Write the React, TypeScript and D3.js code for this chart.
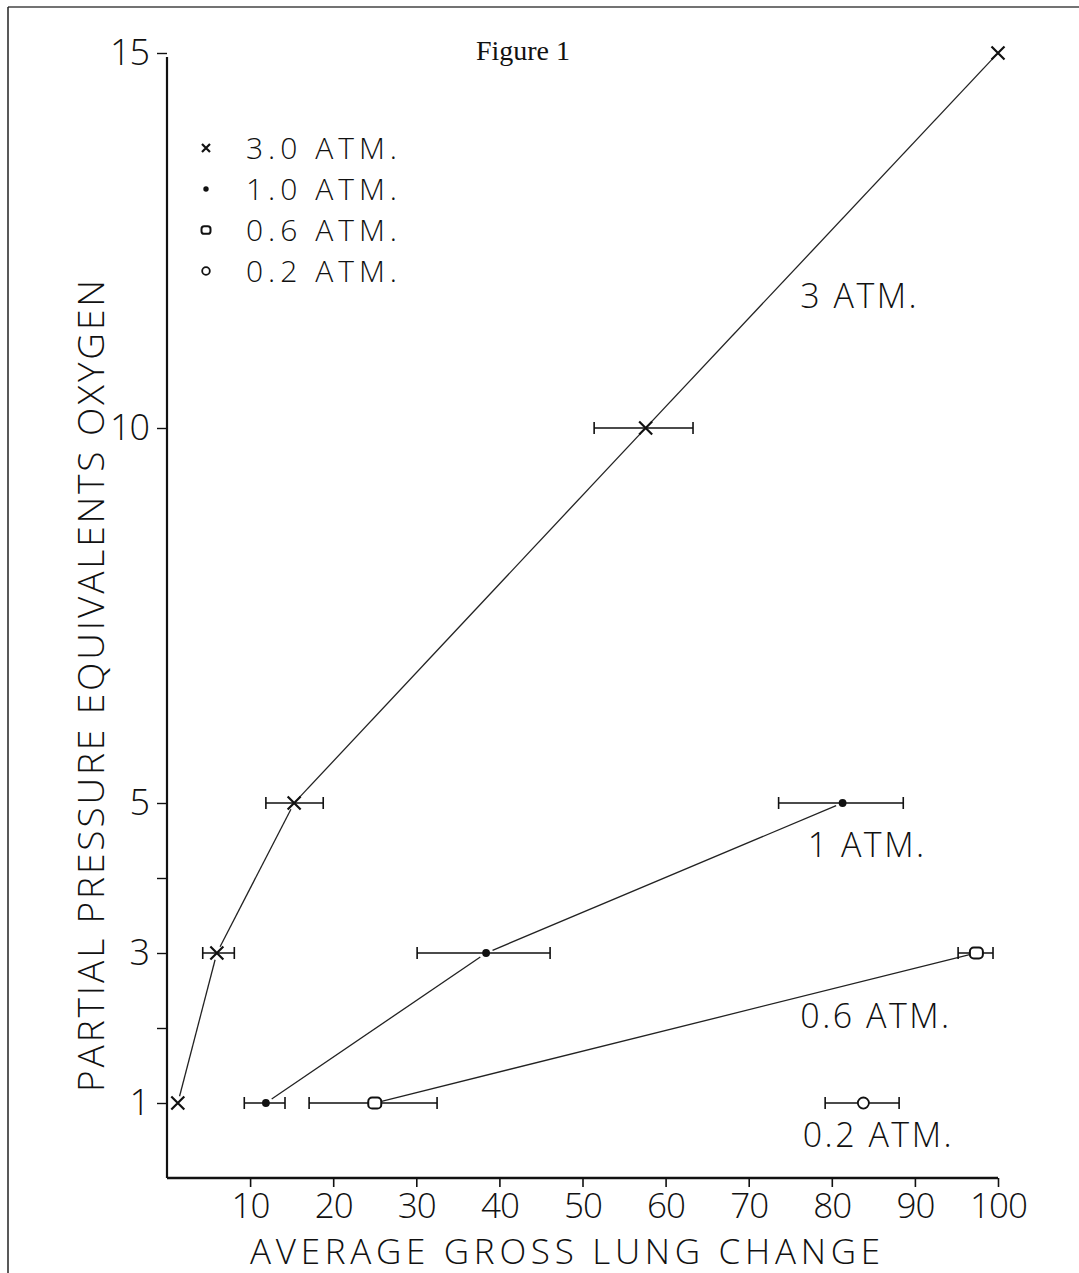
import * as d3 from "d3";
import { useEffect, useRef } from "react";

// partial pressure equivalents (y) and average gross lung change (x) per series
const atm3Pressure = [1, 3, 5, 10, 15];
const atm3Change = [1.3, 6.0, 15.3, 57.6, 100];
const atm3Low = [null, 4.3, 11.9, 51.4, null];
const atm3High = [null, 8.1, 18.8, 63.3, null];

const atm1Pressure = [1, 3, 5];
const atm1Change = [11.9, 38.4, 81.3];
const atm1Low = [9.3, 30.1, 73.6];
const atm1High = [14.2, 46.1, 88.6];

const atm06Pressure = [1, 3];
const atm06Change = [25.0, 97.4];
const atm06Low = [17.1, 95.2];
const atm06High = [32.5, 99.4];

const atm02Pressure = [1];
const atm02Change = [83.8];
const atm02Low = [79.2];
const atm02High = [88.1];

const xTicks = [10, 20, 30, 40, 50, 60, 70, 80, 90, 100];
const yTicks = [1, 2, 3, 4, 5, 10, 15];
const yTickLabels = [1, 3, 5, 10, 15];
const legendLabels = ["3.0 ATM.", "1.0 ATM.", "0.6 ATM.", "0.2 ATM."];
const seriesLabels = ["3 ATM.", "1 ATM.", "0.6 ATM.", "0.2 ATM."];

const W = 1079;
const H = 1273;
const FONT = "'Open Sans', 'DejaVu Sans', sans-serif";
const INK = "#111";

const App = () => {
  const ref = useRef(null);

  useEffect(() => {
    const svg = d3.select(ref.current);
    svg.selectAll("*").remove();

    const x = d3.scaleLinear().domain([0, 100]).range([167, 998]);
    const y = d3.scaleLinear().domain([0, 15]).range([1178, 53]);

    // frame of the scanned page
    svg.append("line").attr("x1", 8).attr("x2", W).attr("y1", 7).attr("y2", 7)
      .attr("stroke", "#444").attr("stroke-width", 1.5);
    svg.append("line").attr("x1", 8).attr("x2", 8).attr("y1", 7).attr("y2", H)
      .attr("stroke", "#222").attr("stroke-width", 1.5);

    svg.append("text").attr("x", 523).attr("y", 60).attr("text-anchor", "middle")
      .attr("font-family", "'Liberation Serif', 'Times New Roman', serif")
      .attr("font-size", 28).attr("fill", INK).text("Figure 1");

    // axes
    const xAxis = svg.append("g").attr("transform", `translate(0,${y(0)})`)
      .call(d3.axisBottom(x).tickValues(xTicks).tickSize(9).tickFormat(d3.format("d")));
    xAxis.select(".domain").attr("d", `M${x(0)},0H${x(100)}`).attr("stroke", INK).attr("stroke-width", 2.6);
    xAxis.selectAll(".tick line").attr("stroke", INK).attr("stroke-width", 1.6);
    xAxis.selectAll(".tick text").attr("y", 15).attr("font-family", FONT).attr("font-weight", 300)
      .attr("font-size", 35).attr("letter-spacing", -1).attr("fill", INK);

    const yAxis = svg.append("g").attr("transform", `translate(${x(0)},0)`)
      .call(d3.axisLeft(y).tickValues(yTicks).tickSize(10)
        .tickFormat((d) => (yTickLabels.includes(d) ? d3.format("d")(d) : "")));
    yAxis.select(".domain").attr("d", `M0,${y(0)}V${y(15) + 4}`).attr("stroke", INK).attr("stroke-width", 2.2);
    yAxis.selectAll(".tick line").attr("stroke", INK).attr("stroke-width", 1.4);
    yAxis.selectAll(".tick text").attr("x", -18).attr("font-family", FONT).attr("font-weight", 300)
      .attr("font-size", 36).attr("letter-spacing", -1).attr("fill", INK);

    svg.append("text").attr("x", 565).attr("y", 1264).attr("text-anchor", "middle")
      .attr("font-family", FONT).attr("font-weight", 300).attr("font-size", 35)
      .attr("textLength", 630).attr("lengthAdjust", "spacing").attr("fill", INK)
      .text("AVERAGE GROSS LUNG CHANGE");

    svg.append("text").attr("transform", `translate(104,686) rotate(-90)`)
      .attr("text-anchor", "middle").attr("font-family", FONT).attr("font-weight", 300)
      .attr("font-size", 37).attr("textLength", 812).attr("lengthAdjust", "spacing")
      .attr("fill", INK).text("PARTIAL PRESSURE EQUIVALENTS OXYGEN");

    const series = [
      { p: atm3Pressure, c: atm3Change, lo: atm3Low, hi: atm3High, mark: "x" },
      { p: atm1Pressure, c: atm1Change, lo: atm1Low, hi: atm1High, mark: "dot" },
      { p: atm06Pressure, c: atm06Change, lo: atm06Low, hi: atm06High, mark: "square" },
      { p: atm02Pressure, c: atm02Change, lo: atm02Low, hi: atm02High, mark: "circle" },
    ];

    const drawMark = (g, mark, cx, cy, s) => {
      if (mark === "x") {
        g.append("path").attr("d", `M${cx - s},${cy - s}L${cx + s},${cy + s}M${cx - s},${cy + s}L${cx + s},${cy - s}`)
          .attr("stroke", INK).attr("stroke-width", 2.2).attr("fill", "none");
      } else if (mark === "dot") {
        g.append("circle").attr("cx", cx).attr("cy", cy).attr("r", s * 0.6).attr("fill", INK);
      } else if (mark === "square") {
        g.append("rect").attr("x", cx - s).attr("y", cy - s * 0.85).attr("width", 2 * s)
          .attr("height", 1.7 * s).attr("rx", s * 0.6).attr("fill", "#fff")
          .attr("stroke", INK).attr("stroke-width", 2);
      } else {
        g.append("circle").attr("cx", cx).attr("cy", cy).attr("r", s * 0.85)
          .attr("fill", "#fff").attr("stroke", INK).attr("stroke-width", 1.8);
      }
    };

    const plot = svg.append("g");
    series.forEach((s) => {
      const pts = s.p.map((p, i) => [x(s.c[i]), y(p)]);
      // connecting lines stop just short of the markers
      for (let i = 0; i < pts.length - 1; i++) {
        const [x1, y1] = pts[i];
        const [x2, y2] = pts[i + 1];
        const len = Math.hypot(x2 - x1, y2 - y1);
        const ux = (x2 - x1) / len;
        const uy = (y2 - y1) / len;
        const gap = 7;
        plot.append("line")
          .attr("x1", x1 + ux * gap).attr("y1", y1 + uy * gap)
          .attr("x2", x2 - ux * gap).attr("y2", y2 - uy * gap)
          .attr("stroke", "#222").attr("stroke-width", 1.3);
      }
      // horizontal error bars
      s.p.forEach((p, i) => {
        if (s.lo[i] == null) return;
        const cy = y(p);
        plot.append("path")
          .attr("d", `M${x(s.lo[i])},${cy}H${x(s.hi[i])}M${x(s.lo[i])},${cy - 6}V${cy + 6}M${x(s.hi[i])},${cy - 6}V${cy + 6}`)
          .attr("stroke", INK).attr("stroke-width", 1.6).attr("fill", "none");
      });
      pts.forEach(([cx, cy]) => drawMark(plot, s.mark, cx, cy, 6.5));
    });

    // legend
    const legend = svg.append("g");
    legendLabels.forEach((label, i) => {
      const cy = 148 + i * 41;
      drawMark(legend, series[i].mark, 206, cy, series[i].mark === "x" ? 4 : 4.5);
      legend.append("text").attr("x", 402).attr("y", cy + 11).attr("text-anchor", "end")
        .attr("font-family", FONT).attr("font-weight", 300).attr("font-size", 30)
        .attr("letter-spacing", 5).attr("fill", INK).text(label);
    });

    // series labels placed in data units
    const labelAt = [[76.2, 11.6], [77.1, 4.28], [76.2, 2.0], [76.5, 0.42]];
    seriesLabels.forEach((label, i) => {
      svg.append("text").attr("x", x(labelAt[i][0])).attr("y", y(labelAt[i][1]))
        .attr("font-family", FONT).attr("font-weight", 300).attr("font-size", 34)
        .attr("letter-spacing", 2.5).attr("fill", INK).text(label);
    });
  }, []);

  return (
    <svg
      ref={ref}
      width={W}
      height={H}
      style={{ position: "absolute", left: 0, top: 0, background: "#fff" }}
    />
  );
};

export default App;
